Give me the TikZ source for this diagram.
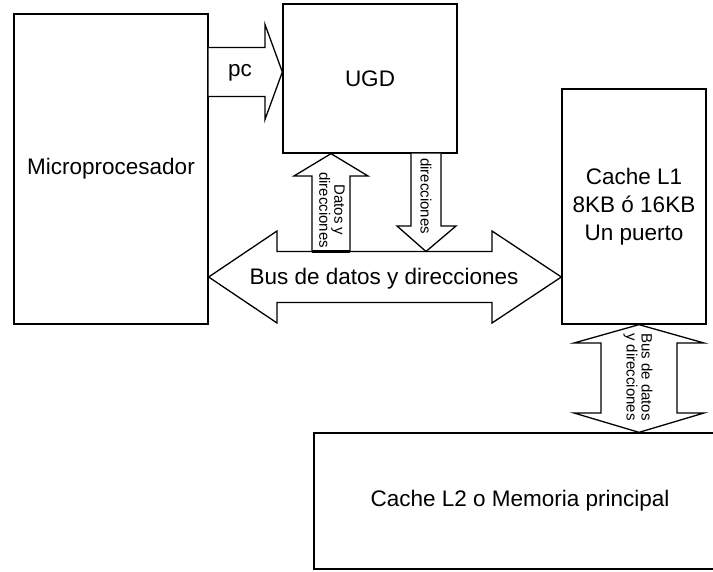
\documentclass[tikz,border=0pt]{standalone}
\usepackage{fontspec}
\setmainfont{Liberation Sans}
\usetikzlibrary{calc}

\begin{document}
\begin{tikzpicture}[
  x=1pt,y=1pt,
  line width=1.3pt,
  every node/.style={font=\fontsize{22.5}{28}\selectfont},
  blockbox/.style={draw,inner sep=0pt,align=center},
  blkarrow/.style={draw,fill=white,line join=miter},
  sidetext/.style={font=\fontsize{15}{15}\selectfont,rotate=-90,inner sep=0pt},
]
  \useasboundingbox (0,0) rectangle (713,571);

  % Blocks
  \node[blockbox,minimum width=194pt,minimum height=310pt] (micro) at (111,402) {Microprocesador};
  \node[blockbox,minimum width=174pt,minimum height=149pt] (ugd) at (370,492.5) {UGD};
  \node[blockbox,minimum width=144pt,minimum height=235pt] (cacheA) at (634,364.5) {Cache L1\\8KB ó 16KB\\Un puerto};
  \node[blockbox,minimum width=412pt,minimum height=136pt] (cacheB) at (520,70) {Cache L2 o Memoria principal};

  % pc
  \draw[blkarrow] (micro.east |- 0,523.5) -- (265,523.5) -- (265,546.5) -- (ugd.west |- 0,499)
    -- (265,451.5) -- (265,474.5) -- (micro.east |- 0,474.5);
  \node (pcLbl) at (240,498) {pc};

  % Bus de datos y direcciones
  \draw[blkarrow] (micro.east |- 0,294) -- (277,340) -- (277,319.5) -- (492,319.5) -- (492,340)
    -- (cacheA.west |- 0,294) -- (492,248) -- (492,268.5) -- (277,268.5) -- (277,248) -- cycle;
  \node (busLbl) at (384,292) {Bus de datos y direcciones};

  % bus -> UGD
  \draw[blkarrow] (312,319.5) -- (312,395) -- (294,395) -- (ugd.south -| 331,0) -- (368,395)
    -- (350,395) -- (350,319.5) -- cycle;
  \draw[line width=3pt] (312,319.5) -- (350,319.5);
  \node[sidetext,align=center] (upLbl) at (332,361) {Datos y\\direcciones};

  % UGD -> bus
  \draw[blkarrow] (ugd.south -| 411,0) -- (411,345) -- (397,345) -- (426,319.5) -- (456,345)
    -- (441,345) -- (ugd.south -| 441,0);
  \node[sidetext] (downLbl) at (426,375) {direcciones};

  % L1 <-> L2
  \draw[blkarrow] (cacheA.south -| 639,0) -- (704,228) -- (677,228) -- (677,158) -- (704,158)
    -- (cacheB.north -| 639,0) -- (574,158) -- (601,158) -- (601,228) -- (574,228) -- cycle;
  \node[sidetext,align=right] (vbusLbl) at (638,194) {Bus de datos\\y direcciones};
\end{tikzpicture}
\end{document}
